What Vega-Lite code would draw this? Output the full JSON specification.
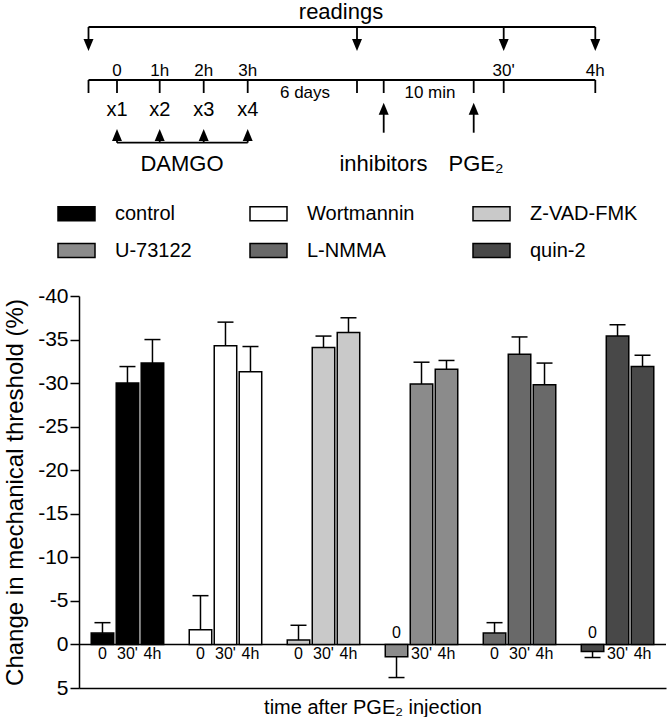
{
  "$schema": "https://vega.github.io/schema/vega-lite/v6.json",
  "padding": {"left": 3, "top": 0, "right": 0, "bottom": 0},
  "config": {
    "font": "Liberation Sans",
    "view": {"stroke": null},
    "locale": {"number": {"decimal": ".", "thousands": ",", "grouping": [3], "currency": ["$", ""], "minus": "-"}},
    "axisX": {"labels": false, "ticks": false, "grid": false, "domainColor": "black", "domainWidth": 1.5, "titleFontSize": 20, "titleFontWeight": "normal", "titleColor": "black", "titlePadding": 9},
    "axisY": {"tickCount": 10, "grid": false, "labelFontSize": 21, "labelColor": "black", "tickColor": "black", "tickSize": 9, "tickWidth": 1.5, "labelPadding": 2, "domainColor": "black", "domainWidth": 1.5, "titleFontSize": 24, "titleFontWeight": "normal", "titleColor": "black", "titlePadding": 10}
  },
  "datasets": {
    "bars": [
      {"treatment": "control", "time": "0", "value": -1.3, "cap": -2.5},
      {"treatment": "control", "time": "30'", "value": -30.0, "cap": -31.9},
      {"treatment": "control", "time": "4h", "value": -32.3, "cap": -35.0},
      {"treatment": "Wortmannin", "time": "0", "value": -1.7, "cap": -5.6},
      {"treatment": "Wortmannin", "time": "30'", "value": -34.3, "cap": -37.0},
      {"treatment": "Wortmannin", "time": "4h", "value": -31.3, "cap": -34.2},
      {"treatment": "Z-VAD-FMK", "time": "0", "value": -0.5, "cap": -2.2},
      {"treatment": "Z-VAD-FMK", "time": "30'", "value": -34.1, "cap": -35.4},
      {"treatment": "Z-VAD-FMK", "time": "4h", "value": -35.8, "cap": -37.5},
      {"treatment": "U-73122", "time": "0", "value": 1.4, "cap": 3.8},
      {"treatment": "U-73122", "time": "30'", "value": -29.9, "cap": -32.4},
      {"treatment": "U-73122", "time": "4h", "value": -31.6, "cap": -32.6},
      {"treatment": "L-NMMA", "time": "0", "value": -1.3, "cap": -2.5},
      {"treatment": "L-NMMA", "time": "30'", "value": -33.3, "cap": -35.3},
      {"treatment": "L-NMMA", "time": "4h", "value": -29.8, "cap": -32.3},
      {"treatment": "quin-2", "time": "0", "value": 0.8, "cap": 1.5},
      {"treatment": "quin-2", "time": "30'", "value": -35.4, "cap": -36.7},
      {"treatment": "quin-2", "time": "4h", "value": -31.9, "cap": -33.2}
    ],
    "lines": [
      {"x": 9.5, "x2": 516.3, "y": 26, "y2": 26},
      {"x": 9.5, "x2": 9.5, "y": 26, "y2": 40},
      {"x": 278, "x2": 278, "y": 26, "y2": 40},
      {"x": 424.7, "x2": 424.7, "y": 26, "y2": 40},
      {"x": 516.3, "x2": 516.3, "y": 26, "y2": 40},
      {"x": 9.5, "x2": 516.3, "y": 79, "y2": 79},
      {"x": 9.5, "x2": 9.5, "y": 79, "y2": 92},
      {"x": 38, "x2": 38, "y": 79, "y2": 92},
      {"x": 80.7, "x2": 80.7, "y": 79, "y2": 92},
      {"x": 124.7, "x2": 124.7, "y": 79, "y2": 92},
      {"x": 168.7, "x2": 168.7, "y": 79, "y2": 92},
      {"x": 278, "x2": 278, "y": 79, "y2": 92},
      {"x": 304.7, "x2": 304.7, "y": 79, "y2": 92},
      {"x": 394.7, "x2": 394.7, "y": 79, "y2": 92},
      {"x": 424.7, "x2": 424.7, "y": 79, "y2": 92},
      {"x": 516.3, "x2": 516.3, "y": 79, "y2": 92},
      {"x": 38, "x2": 168.7, "y": 141.7, "y2": 141.7},
      {"x": 38, "x2": 38, "y": 141.7, "y2": 136},
      {"x": 80.7, "x2": 80.7, "y": 141.7, "y2": 136},
      {"x": 124.7, "x2": 124.7, "y": 141.7, "y2": 136},
      {"x": 168.7, "x2": 168.7, "y": 141.7, "y2": 136},
      {"x": 304.7, "x2": 304.7, "y": 131.7, "y2": 112},
      {"x": 394.7, "x2": 394.7, "y": 131.7, "y2": 112}
    ],
    "arrows": [
      {"x": 9.5, "y": 44, "dir": "down"},
      {"x": 278, "y": 44, "dir": "down"},
      {"x": 424.7, "y": 44, "dir": "down"},
      {"x": 516.3, "y": 44, "dir": "down"},
      {"x": 38, "y": 134, "dir": "up"},
      {"x": 80.7, "y": 134, "dir": "up"},
      {"x": 124.7, "y": 134, "dir": "up"},
      {"x": 168.7, "y": 134, "dir": "up"},
      {"x": 304.7, "y": 107.7, "dir": "up"},
      {"x": 394.7, "y": 107.7, "dir": "up"}
    ],
    "labels": [
      {"role": "head", "label": "readings", "x": 262, "y": 17.5},
      {"role": "time", "label": "0", "x": 38, "y": 75},
      {"role": "time", "label": "1h", "x": 80.7, "y": 75},
      {"role": "time", "label": "2h", "x": 124.7, "y": 75},
      {"role": "time", "label": "3h", "x": 168.7, "y": 75},
      {"role": "time", "label": "30'", "x": 424.7, "y": 75},
      {"role": "time", "label": "4h", "x": 516.3, "y": 75},
      {"role": "time", "label": "6 days", "x": 226, "y": 97},
      {"role": "time", "label": "10 min", "x": 351, "y": 97},
      {"role": "dose", "label": "x1", "x": 38, "y": 115},
      {"role": "dose", "label": "x2", "x": 80.7, "y": 115},
      {"role": "dose", "label": "x3", "x": 124.7, "y": 115},
      {"role": "dose", "label": "x4", "x": 168.7, "y": 115},
      {"role": "agent", "label": "DAMGO", "x": 103, "y": 170},
      {"role": "agent", "label": "inhibitors", "x": 304.5, "y": 170},
      {"role": "agent", "label": "PGE₂", "x": 397, "y": 170}
    ]
  },
  "spacing": 13,
  "resolve": {"scale": {"color": "independent"}, "legend": {"color": "independent"}},
  "vconcat": [
    {
      "width": 587,
      "height": 180,
      "layer": [
        {
          "data": {"name": "lines"},
          "mark": {"type": "rule", "color": "black", "strokeWidth": 1.8},
          "encoding": {
            "x": {"field": "x", "type": "quantitative", "scale": {"domain": [0, 587], "nice": false, "zero": false}, "axis": null},
            "x2": {"field": "x2"},
            "y": {"field": "y", "type": "quantitative", "scale": {"domain": [0, 180], "reverse": true, "nice": false, "zero": false}, "axis": null},
            "y2": {"field": "y2"}
          }
        },
        {
          "data": {"name": "arrows"},
          "mark": {"type": "point", "filled": true, "color": "black", "opacity": 1, "size": 144, "strokeWidth": 0},
          "encoding": {
            "x": {"field": "x", "type": "quantitative", "axis": null},
            "y": {"field": "y", "type": "quantitative", "axis": null},
            "shape": {"field": "dir", "type": "nominal", "scale": {"domain": ["down", "up"], "range": ["M-0.83,-1L0.83,-1L0,1Z", "M-0.83,1L0.83,1L0,-1Z"]}, "legend": null}
          }
        },
        {
          "data": {"name": "labels"},
          "transform": [{"filter": "datum.role === 'head'"}],
          "mark": {"type": "text", "fontSize": 22, "align": "center", "baseline": "alphabetic", "color": "black"},
          "encoding": {
            "x": {"field": "x", "type": "quantitative", "axis": null},
            "y": {"field": "y", "type": "quantitative", "axis": null},
            "text": {"field": "label"}
          }
        },
        {
          "data": {"name": "labels"},
          "transform": [{"filter": "datum.role === 'time'"}],
          "mark": {"type": "text", "fontSize": 17, "align": "center", "baseline": "alphabetic", "color": "black"},
          "encoding": {
            "x": {"field": "x", "type": "quantitative", "axis": null},
            "y": {"field": "y", "type": "quantitative", "axis": null},
            "text": {"field": "label"}
          }
        },
        {
          "data": {"name": "labels"},
          "transform": [{"filter": "datum.role === 'dose'"}],
          "mark": {"type": "text", "fontSize": 20, "align": "center", "baseline": "alphabetic", "color": "black"},
          "encoding": {
            "x": {"field": "x", "type": "quantitative", "axis": null},
            "y": {"field": "y", "type": "quantitative", "axis": null},
            "text": {"field": "label"}
          }
        },
        {
          "data": {"name": "labels"},
          "transform": [{"filter": "datum.role === 'agent'"}],
          "mark": {"type": "text", "fontSize": 22, "align": "center", "baseline": "alphabetic", "color": "black"},
          "encoding": {
            "x": {"field": "x", "type": "quantitative", "axis": null},
            "y": {"field": "y", "type": "quantitative", "axis": null},
            "text": {"field": "label"}
          }
        }
      ]
    },
    {
      "width": 587,
      "height": 392,
      "data": {"name": "bars"},
      "layer": [
        {
          "data": {"values": [{"z": 0}]},
          "mark": {"type": "rule", "color": "black", "strokeWidth": 1.5},
          "encoding": {
            "y": {"field": "z", "type": "quantitative", "title": "Change in mechanical threshold (%)", "scale": {"domain": [-40, 5], "reverse": true, "nice": false, "zero": false}}
          }
        },
        {
          "mark": {"type": "rule", "color": "black", "strokeWidth": 1.5},
          "encoding": {
            "x": {"field": "treatment", "type": "nominal", "sort": null, "title": "time after PGE₂ injection", "scale": {"domain": ["control", "Wortmannin", "Z-VAD-FMK", "U-73122", "L-NMMA", "quin-2"], "paddingInner": 0.235, "paddingOuter": 0.112}},
            "xOffset": {"field": "time", "type": "nominal", "sort": null, "scale": {"domain": ["0", "30'", "4h"], "paddingInner": 0.1, "paddingOuter": 0.05}},
            "y": {"field": "value", "type": "quantitative", "title": "Change in mechanical threshold (%)", "scale": {"domain": [-40, 5], "reverse": true, "nice": false, "zero": false}},
            "y2": {"field": "cap"}
          }
        },
        {
          "mark": {"type": "tick", "color": "black", "size": 16, "thickness": 1.5, "opacity": 1},
          "encoding": {
            "x": {"field": "treatment", "type": "nominal", "sort": null, "title": "time after PGE₂ injection", "scale": {"domain": ["control", "Wortmannin", "Z-VAD-FMK", "U-73122", "L-NMMA", "quin-2"], "paddingInner": 0.235, "paddingOuter": 0.112}},
            "xOffset": {"field": "time", "type": "nominal", "sort": null, "scale": {"domain": ["0", "30'", "4h"], "paddingInner": 0.1, "paddingOuter": 0.05}},
            "y": {"field": "cap", "type": "quantitative", "title": "Change in mechanical threshold (%)", "scale": {"domain": [-40, 5], "reverse": true, "nice": false, "zero": false}}
          }
        },
        {
          "mark": {"type": "bar", "stroke": "black", "strokeWidth": 1.5, "opacity": 1},
          "encoding": {
            "x": {"field": "treatment", "type": "nominal", "sort": null, "title": "time after PGE₂ injection", "scale": {"domain": ["control", "Wortmannin", "Z-VAD-FMK", "U-73122", "L-NMMA", "quin-2"], "paddingInner": 0.235, "paddingOuter": 0.112}},
            "xOffset": {"field": "time", "type": "nominal", "sort": null, "scale": {"domain": ["0", "30'", "4h"], "paddingInner": 0.1, "paddingOuter": 0.05}},
            "y": {"field": "value", "type": "quantitative", "title": "Change in mechanical threshold (%)", "scale": {"domain": [-40, 5], "reverse": true, "nice": false, "zero": false}},
            "color": {
              "field": "treatment", "type": "nominal", "sort": null,
              "scale": {"domain": ["control", "Wortmannin", "Z-VAD-FMK", "U-73122", "L-NMMA", "quin-2"], "range": ["#000000", "#ffffff", "#c9c9c9", "#8b8b8b", "#696969", "#484848"]},
              "legend": {"title": null, "orient": "none", "direction": "horizontal", "legendX": -22, "legendY": -102, "columns": 3, "symbolType": "M-1,-0.38H1V0.38H-1Z", "symbolSize": 1369, "symbolStrokeColor": "black", "symbolStrokeWidth": 1.5, "symbolOpacity": 1, "labelFontSize": 20, "labelColor": "black", "labelOffset": 19, "columnPadding": 55, "rowPadding": 7, "padding": 0}
            }
          }
        },
        {
          "transform": [{"filter": "datum.value <= 0"}],
          "mark": {"type": "text", "fontSize": 16, "align": "center", "baseline": "alphabetic", "dy": 15, "color": "black"},
          "encoding": {
            "x": {"field": "treatment", "type": "nominal", "sort": null, "title": "time after PGE₂ injection", "scale": {"domain": ["control", "Wortmannin", "Z-VAD-FMK", "U-73122", "L-NMMA", "quin-2"], "paddingInner": 0.235, "paddingOuter": 0.112}},
            "xOffset": {"field": "time", "type": "nominal", "sort": null, "scale": {"domain": ["0", "30'", "4h"], "paddingInner": 0.1, "paddingOuter": 0.05}},
            "y": {"datum": 0, "type": "quantitative", "title": "Change in mechanical threshold (%)", "scale": {"domain": [-40, 5], "reverse": true, "nice": false, "zero": false}},
            "text": {"field": "time"}
          }
        },
        {
          "transform": [{"filter": "datum.value > 0"}],
          "mark": {"type": "text", "fontSize": 16, "align": "center", "baseline": "alphabetic", "dy": -6, "color": "black"},
          "encoding": {
            "x": {"field": "treatment", "type": "nominal", "sort": null, "title": "time after PGE₂ injection", "scale": {"domain": ["control", "Wortmannin", "Z-VAD-FMK", "U-73122", "L-NMMA", "quin-2"], "paddingInner": 0.235, "paddingOuter": 0.112}},
            "xOffset": {"field": "time", "type": "nominal", "sort": null, "scale": {"domain": ["0", "30'", "4h"], "paddingInner": 0.1, "paddingOuter": 0.05}},
            "y": {"datum": 0, "type": "quantitative", "title": "Change in mechanical threshold (%)", "scale": {"domain": [-40, 5], "reverse": true, "nice": false, "zero": false}},
            "text": {"field": "time"}
          }
        }
      ]
    }
  ]
}
